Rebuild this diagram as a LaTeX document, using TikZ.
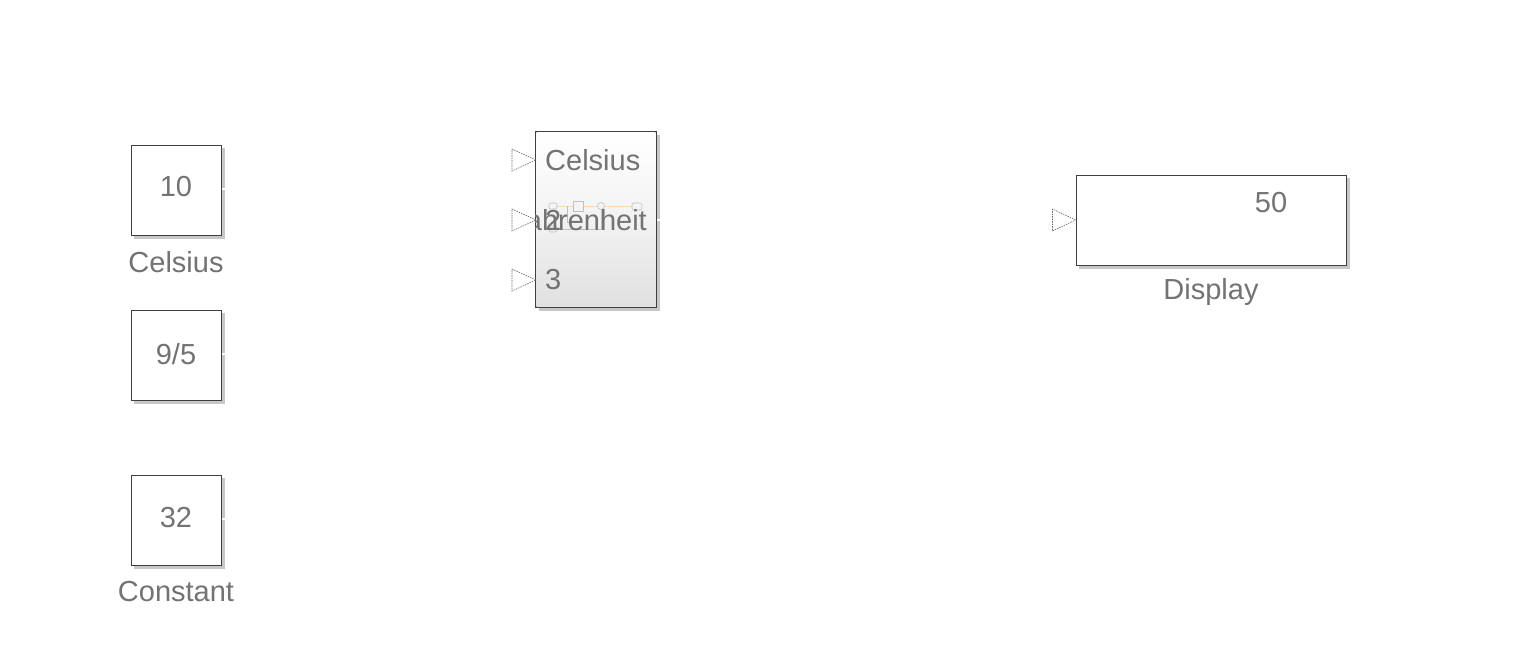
\documentclass[tikz,border=0pt]{standalone}
\usepackage{fontspec}
\setmainfont{Liberation Sans}
\usetikzlibrary{calc}
\tikzset{
  blk/.style={draw=black!75, line width=1pt, fill=white, inner sep=0pt},
  shd/.style={fill=black!22, draw=none},
  txt/.style={text=black!55, font=\fontsize{29}{29}\selectfont, inner sep=0pt},
  port/.style={draw=black!60, line width=0.6pt, dash pattern=on 1.5pt off 1pt},
  stub/.style={draw=white, line width=1.2pt},
  icon/.style={draw=black!25, line width=0.6pt}
}
\begin{document}
\begin{tikzpicture}[x=1pt,y=-1pt]
\useasboundingbox[fill=white] (0,0) rectangle (1527,659);
% shadows
\fill[shd] (134,148) rectangle (225,239);
\fill[shd] (134,313) rectangle (225,404);
\fill[shd] (134,478) rectangle (225,569);
\fill[shd] (539,135) rectangle (660,311);
\fill[shd] (1079,178) rectangle (1350,269);
% constant blocks
\node[blk, minimum width=90pt, minimum height=90pt] (cel) at (176,190) {};
\node[txt] (celv) at (176,187) {10};
\node[txt] (cell) at (176,262) {Celsius};
\node[blk, minimum width=90pt, minimum height=90pt] (nf) at (176,355) {};
\node[txt] (nfv) at (176,354) {9/5};
\node[blk, minimum width=90pt, minimum height=90pt] (con) at (176,520) {};
\node[txt] (conv) at (176,518) {32};
\node[txt] (conl) at (176,592) {Constant};
\foreach \b in {cel,nf,con}{
  \coordinate (\b o) at ($(\b.east)+(6,-1)$);
  \draw[stub] ($(\b.east)+(0.5,-1)$) -- (\b o);
}
% subsystem
\node[blk, minimum width=120pt, minimum height=175pt] (sub) at (596,219.5) {};
\shade[top color=white, bottom color=black!12, middle color=white!95!black] ($(sub.north west)+(0.8,0.8)$) rectangle ($(sub.south east)+(-0.8,-0.8)$);
\draw[black!75, line width=1pt] (sub.north west) rectangle (sub.south east);
% tiny icon
\draw[icon, draw=orange!30] (557,206) -- (573,206) (583,206) -- (597,206) (605,206) -- (632,206);
\draw[icon, rounded corners=2pt] (549,203) rectangle (557,209);
\draw[icon] (573,201) rectangle (583,211);
\draw[icon] (601,206) circle (3.5);
\draw[icon, rounded corners=2pt] (632,203) rectangle (642,210);
\draw[icon] (601,209) -- (601,229) -- (557,229);
\draw[icon, rounded corners=2pt] (549,226) rectangle (557,232);
\draw[icon] (567,206) -- (567,222) -- (578,222);
\begin{scope}
\clip (sub.north west) rectangle (sub.south east);
\node[txt, anchor=east] (fout) at (647,220) {Fahrenheit};
\end{scope}
\node[txt, anchor=west] (in1) at (545,160) {Celsius};
\node[txt, anchor=west] (in2) at (545,220) {2};
\node[txt, anchor=west] (in3) at (545,280) {3};
\foreach \y [count=\i] in {160,220,280}{
  \coordinate (p\i) at (536,\y);
  \draw[port] (p\i) -- ++(-24,-11) -- ++(0,22) -- cycle;
}
\coordinate (subo) at (662,220);
\draw[stub] ($(sub.east)+(0.5,0.5)$) -- (subo);
% display
\node[blk, minimum width=270pt, minimum height=90pt] (disp) at (1211,220) {};
\node[txt] (dispv) at (1271,203) {50};
\node[txt] (displ) at (1211,292) {Display};
\coordinate (dp) at (disp.west);
\draw[port] (dp) -- ++(-23,-11) -- ++(0,22) -- cycle;
\end{tikzpicture}
\end{document}
